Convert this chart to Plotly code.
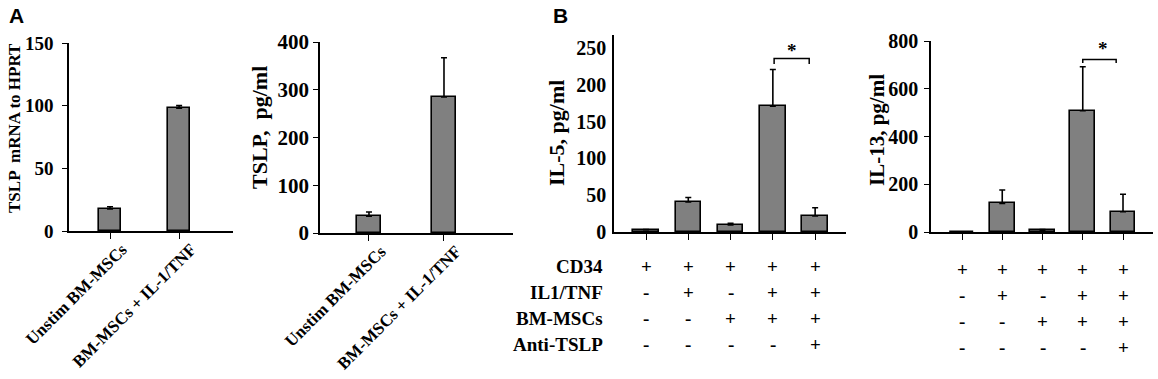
import plotly.graph_objects as go

W, H = 1158, 379

# ---------------- data ----------------
a1_categories = ["Unstim BM-MSCs", "BM-MSCs + IL-1/TNF"]
a1_values = [17.5, 98]
a1_errors = [1.8, 2.0]

a2_categories = ["Unstim BM-MSCs", "BM-MSCs + IL-1/TNF"]
a2_values = [35, 285]
a2_errors = [9, 82]

b_conditions = ["CD34", "IL1/TNF", "BM-MSCs", "Anti-TSLP"]
b_signs = [
    ["+", "+", "+", "+", "+"],
    ["-", "+", "-", "+", "+"],
    ["-", "-", "+", "+", "+"],
    ["-", "-", "-", "-", "+"],
]

b1_values = [3, 41, 9.5, 171, 22]
b1_errors = [0.5, 6, 2.5, 50, 11]

b2_values = [0, 120, 8, 508, 85]
b2_errors = [0, 56, 2, 184, 73]

a1_ticks = [0, 50, 100, 150]
a2_ticks = [0, 100, 200, 300, 400]
b1_ticks = [0, 50, 100, 150, 200, 250]
b2_ticks = [0, 200, 400, 600, 800]

# ---------------- styling ----------------
SERIF = "Liberation Serif, Times New Roman, serif"
BAR_COLOR = "#808080"


def px_x(p):
    return p / W


def px_y(p):
    return 1 - p / H


def b(t):
    return f"<b>{t}</b>"


fig = go.Figure()


def add_bars(values, errors, xa, ya, width):
    fig.add_trace(go.Bar(
        x=list(range(len(values))), y=values,
        width=width,
        marker=dict(color=BAR_COLOR, line=dict(color="black", width=1.6)),
        error_y=dict(type="data", array=errors,
                     arrayminus=[0] * len(errors), symmetric=False,
                     color="black", thickness=1.6, width=3),
        xaxis=xa, yaxis=ya, showlegend=False, hoverinfo="skip",
    ))


add_bars(a1_values, a1_errors, "x", "y", 0.32)
add_bars(a2_values, a2_errors, "x2", "y2", 0.33)
add_bars(b1_values, b1_errors, "x3", "y3", 0.6)
add_bars(b2_values, b2_errors, "x4", "y4", 0.62)

axis_common = dict(showline=True, linecolor="black", linewidth=1.6,
                   showgrid=False, zeroline=False, fixedrange=True,
                   automargin=False)

# panel domains (pixel measurements)
panels = {
    1: dict(x=(69, 233), y=(231, 43), xr=[-0.594, 1.78], yr=[0, 150],
            yt=a1_ticks, fs=19, yticks="outside", so=5),
    2: dict(x=(320, 513), y=(233, 42), xr=[-0.653, 1.92], yr=[0, 400],
            yt=a2_ticks, fs=21, yticks="outside", so=0),
    3: dict(x=(614, 846), y=(232, 35), xr=[-0.757, 4.73], yr=[0, 268],
            yt=b1_ticks, fs=20, yticks="", so=2),
    4: dict(x=(931, 1153), y=(232, 41), xr=[-0.77, 4.745], yr=[0, 800],
            yt=b2_ticks, fs=20, yticks="outside", so=2),
}

layout = dict(
    template="none",
    width=W, height=H, margin=dict(l=0, r=0, t=0, b=0, pad=0),
    paper_bgcolor="white", plot_bgcolor="white",
    bargap=0, showlegend=False,
)

for i, p in panels.items():
    sx = "" if i == 1 else str(i)
    xa = dict(axis_common, domain=[px_x(p["x"][0]), px_x(p["x"][1])],
              range=p["xr"], anchor="y" + sx, ticks="outside", ticklen=6,
              tickwidth=1.4, tickcolor="black")
    if i in (1, 2):
        cats = a1_categories if i == 1 else a2_categories
        xa.update(tickmode="array", tickvals=list(range(len(cats))),
                  ticktext=[b(c) for c in cats], tickangle=-45,
                  ticklabelshift=12, ticklabelstandoff=-6,
                  tickfont=dict(family=SERIF, size=17, color="black"))
    else:
        xa.update(tickmode="array", tickvals=list(range(5)),
                  showticklabels=False)
    ya = dict(axis_common, domain=[px_y(p["y"][0]), px_y(p["y"][1])],
              range=p["yr"], anchor="x" + sx, tickmode="array",
              tickvals=p["yt"], ticktext=[b(v) for v in p["yt"]],
              ticks=p["yticks"], ticklen=5, tickwidth=1.4,
              tickcolor="black", ticklabelstandoff=p["so"],
              tickfont=dict(family=SERIF, size=p["fs"], color="black"))
    layout["xaxis" + sx] = xa
    layout["yaxis" + sx] = ya

fig.update_layout(**layout)

annotations = []


def text_ann(text, x, y, size, xref="paper", yref="paper", angle=0,
             xanchor="center", yanchor="middle", family=SERIF):
    annotations.append(dict(text=b(text), x=x, y=y, xref=xref, yref=yref,
                            textangle=angle, showarrow=False,
                            xanchor=xanchor, yanchor=yanchor,
                            font=dict(family=family, size=size,
                                      color="black")))


# y-axis titles
text_ann("TSLP  mRNA to HPRT", px_x(14), px_y(128), 17, angle=-90)
text_ann("TSLP,  pg/ml", px_x(259), px_y(128), 22, angle=-90)
text_ann("IL-5, pg/ml", px_x(557), px_y(133), 22, angle=-90)
text_ann("IL-13, pg/ml", px_x(877), px_y(130), 21, angle=-90)

# panel letters
text_ann("A", px_x(16), px_y(15), 21, family="Liberation Sans, Arial")
text_ann("B", px_x(560), px_y(15), 21, family="Liberation Sans, Arial")

# sign table
row_y = [266, 292, 318, 344]
for r, cond in enumerate(b_conditions):
    text_ann(cond, px_x(605), px_y(row_y[r]), 19, xanchor="right")
    for c, s in enumerate(b_signs[r]):
        text_ann(s, c, px_y(row_y[r]), 19, xref="x3")
        text_ann(s, c, px_y(row_y[r] + 3), 19, xref="x4")

# significance brackets
brackets = [
    dict(xref="x3", yref="y3", x0=3.03, x1=3.86, ylo=228.5, yhi=236,
         sx=3.45, sy=247),
    dict(xref="x4", yref="y4", x0=3.0, x1=3.83, ylo=708, yhi=723,
         sx=3.5, sy=770),
]
shapes = []
for br in brackets:
    shapes.append(dict(
        type="path", xref=br["xref"], yref=br["yref"],
        path=f"M {br['x0']},{br['ylo']} L {br['x0']},{br['yhi']} "
             f"L {br['x1']},{br['yhi']} L {br['x1']},{br['ylo']}",
        line=dict(color="black", width=1.5)))
    text_ann("*", br["sx"], br["sy"], 19, xref=br["xref"], yref=br["yref"])

fig.update_layout(annotations=annotations, shapes=shapes)

fig.write_html(
    "out.html",
    config={"displayModeBar": False},
    post_script="document.body.style.margin='0';"
                "document.body.style.overflow='hidden';",
)
